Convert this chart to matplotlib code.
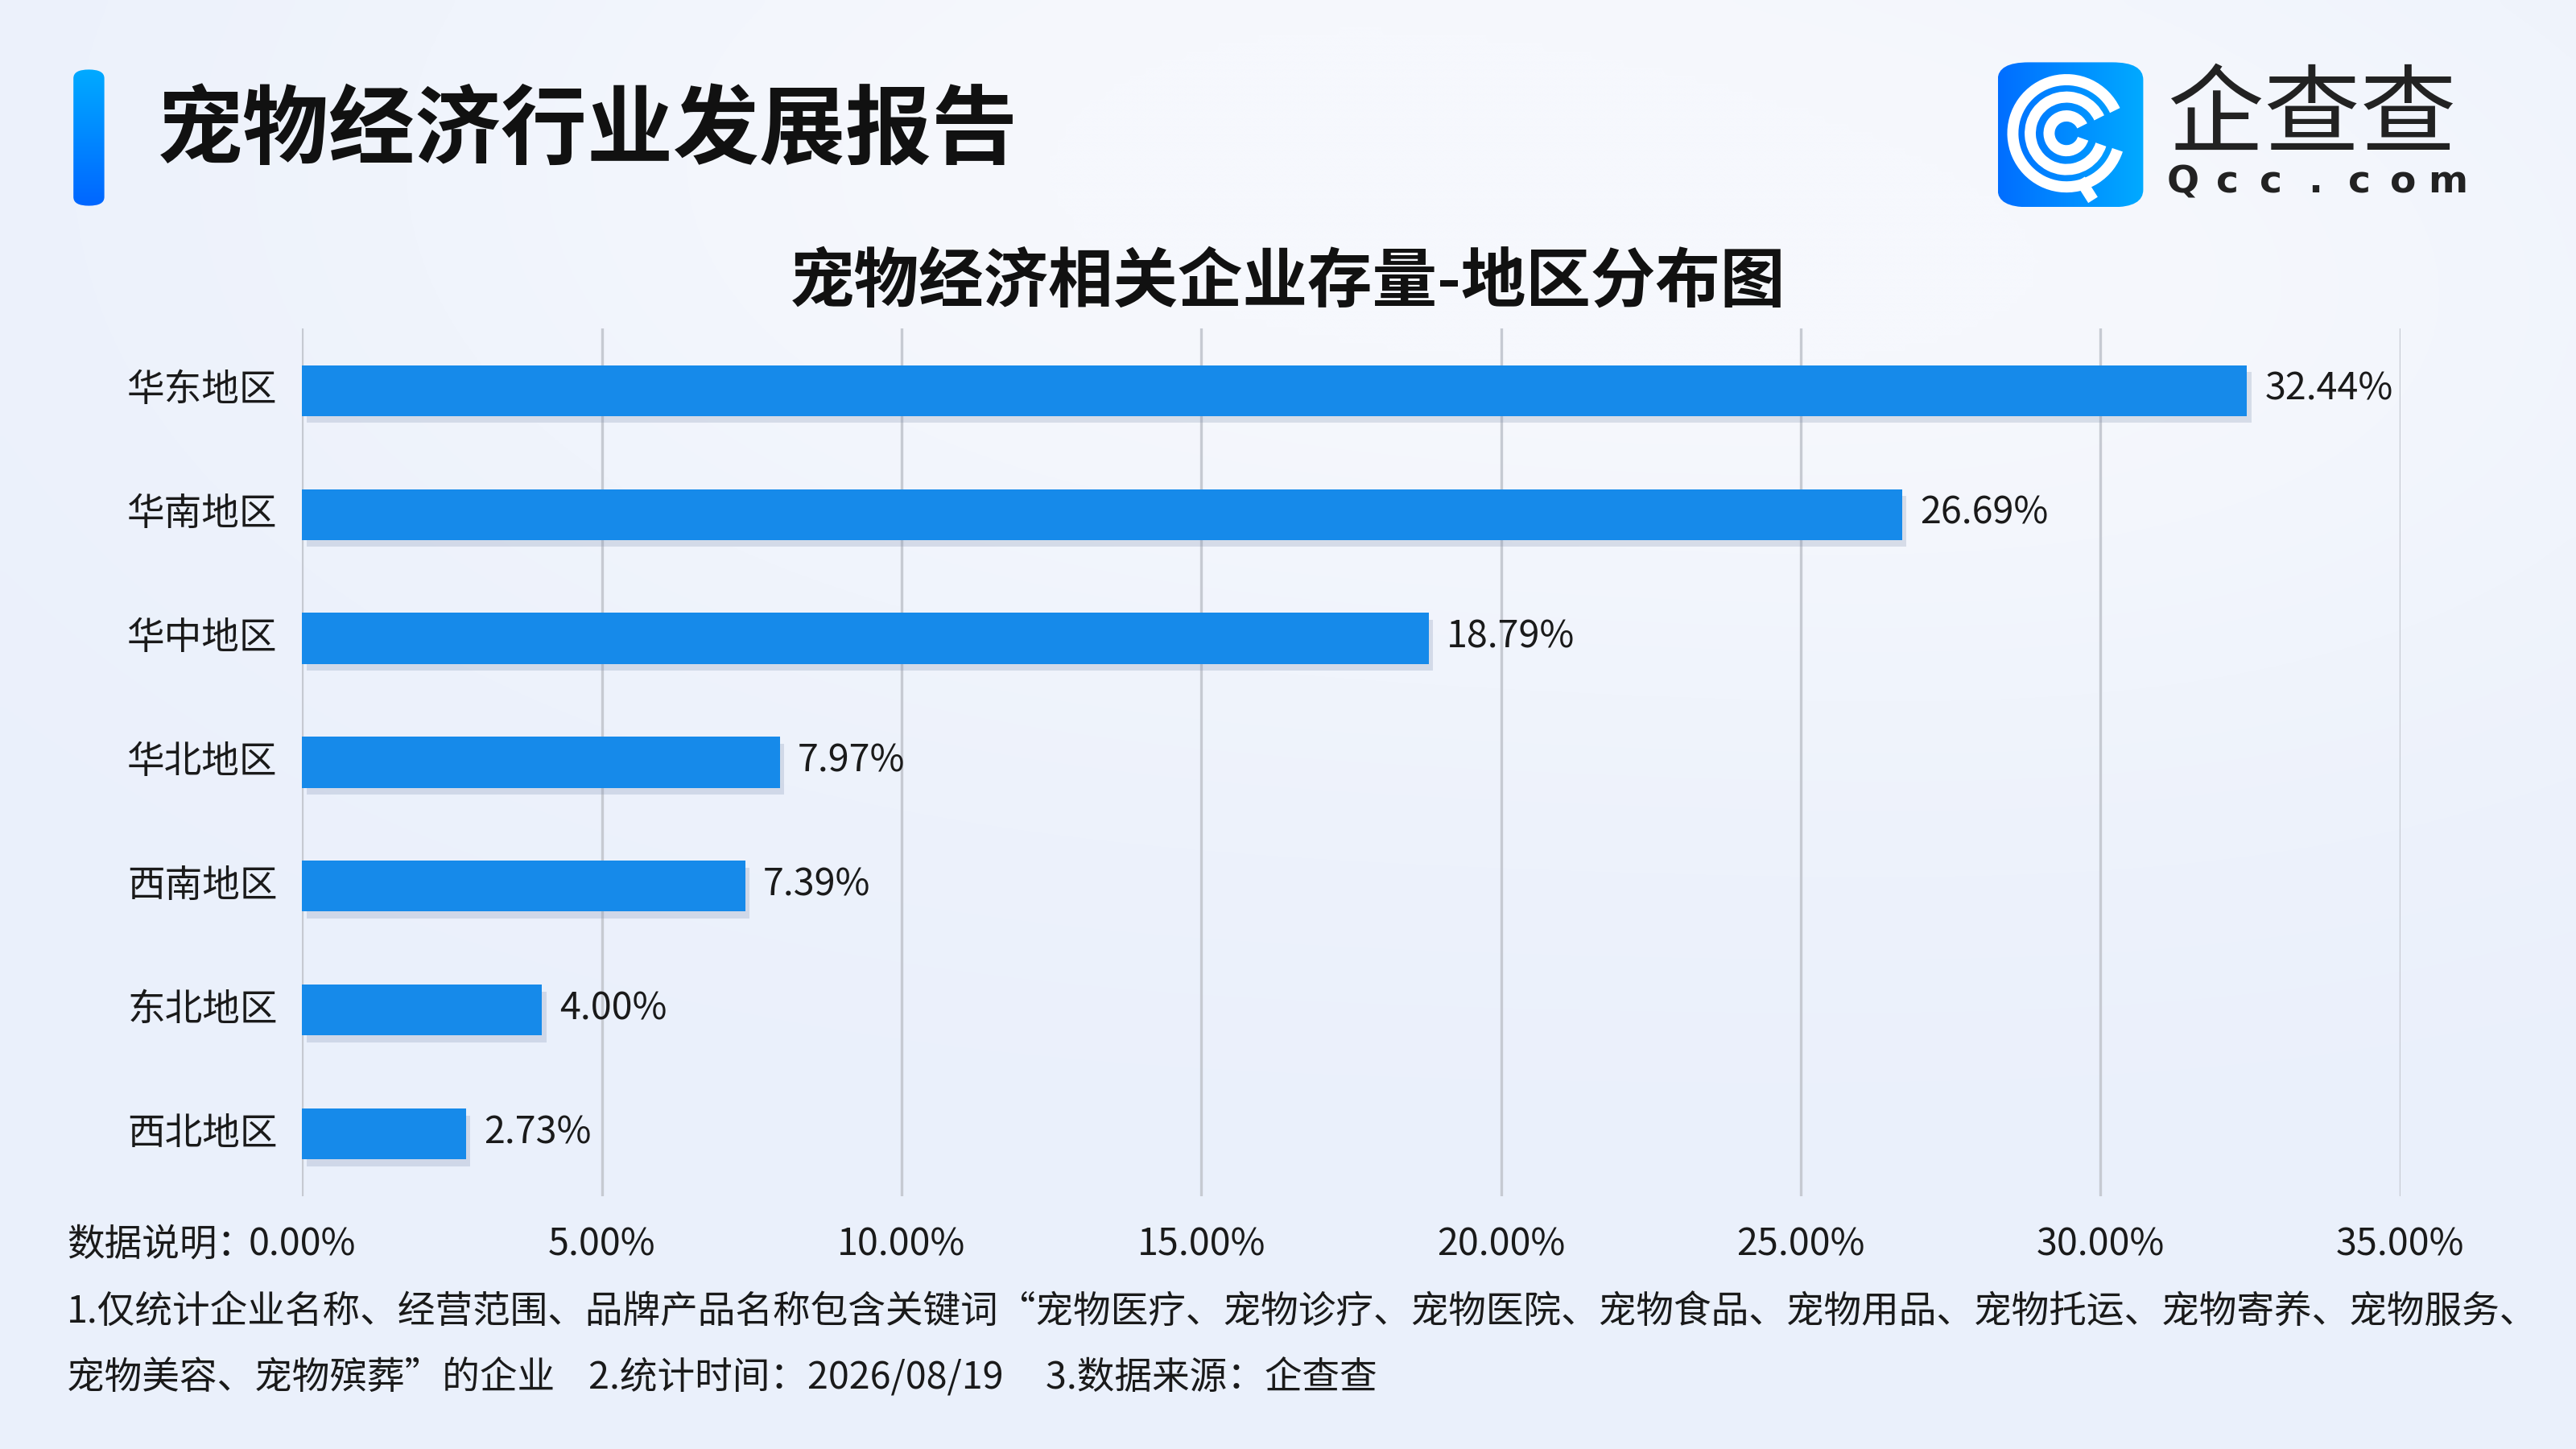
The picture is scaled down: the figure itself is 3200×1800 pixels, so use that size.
import numpy as np
import matplotlib
matplotlib.use("Agg")
import matplotlib.pyplot as plt
from matplotlib.patches import FancyBboxPatch, Arc
import matplotlib.patheffects as pe
import matplotlib.transforms as mtransforms

plt.rcParams['font.family'] = ['Noto Sans CJK SC', 'DejaVu Sans']

# 数据
regions = ['华东地区', '华南地区', '华中地区', '华北地区', '西南地区', '东北地区', '西北地区']
shares = [32.44, 26.69, 18.79, 7.97, 7.39, 4.00, 2.73]
xticks = [0, 5, 10, 15, 20, 25, 30, 35]

title = '宠物经济行业发展报告'
chart_title = '宠物经济相关企业存量-地区分布图'
note1 = '1.仅统计企业名称、经营范围、品牌产品名称包含关键词“宠物医疗、宠物诊疗、宠物医院、宠物食品、宠物用品、宠物托运、宠物寄养、宠物服务、'
note2 = '宠物美容、宠物殡葬”的企业    2.统计时间：2026/08/19     3.数据来源：企查查'

bar_color = '#168aea'
txt_color = '#1a1a1a'

fig = plt.figure(figsize=(16, 9), dpi=200)

# 背景渐变
bg = fig.add_axes([0, 0, 1, 1])
h, w = 180, 320
yy, xx = np.mgrid[0:h, 0:w]
base = np.array([234, 240, 251]) / 255.0
light = np.array([246, 248, 253]) / 255.0
t = np.exp(-(((xx - 150) / 120.0) ** 2 + ((yy - 20) / 70.0) ** 2))
t2 = np.exp(-(((xx - 280) / 90.0) ** 2 + ((yy - 40) / 60.0) ** 2))
t = np.clip(t + 0.6 * t2, 0, 1)
img = base[None, None, :] * (1 - t[..., None]) + light[None, None, :] * t[..., None]
bg.imshow(img, extent=[0, 1, 0, 1], aspect='auto', interpolation='bicubic')
bg.set_xlim(0, 1)
bg.set_ylim(0, 1)
bg.axis('off')

# 左侧蓝色竖条
grad = np.linspace(0, 1, 100)[:, None]
bar_img = np.zeros((100, 1, 3))
top_c = np.array([0, 170, 255]) / 255.0
bot_c = np.array([0, 102, 255]) / 255.0
bar_img[:, 0, :] = top_c * (1 - grad) + bot_c * grad
acc = FancyBboxPatch((0.0285, 0.858), 0.012, 0.094, boxstyle='round,pad=0,rounding_size=0.006',
                     transform=bg.transAxes, facecolor='none', edgecolor='none')
bg.add_patch(acc)
im = bg.imshow(bar_img, extent=[0.0285, 0.0405, 0.858, 0.952], aspect='auto', zorder=3)
im.set_clip_path(acc)

fig.text(0.061, 0.909, title, fontsize=38.5, fontweight='heavy', color='#111111', va='center', ha='left')

# logo
logo = FancyBboxPatch((0.7755, 0.857), 0.0565, 0.1, boxstyle='round,pad=0,rounding_size=0.012',
                      transform=bg.transAxes, facecolor='none', edgecolor='none')
bg.add_patch(logo)
lg = np.zeros((2, 100, 3))
lx = np.linspace(0, 1, 100)
c1 = np.array([0, 110, 255]) / 255.0
c2 = np.array([0, 170, 255]) / 255.0
lg[:, :, :] = (c1[None, :] * (1 - lx[:, None]) + c2[None, :] * lx[:, None])[None, :, :]
im2 = bg.imshow(lg, extent=[0.7755, 0.832, 0.857, 0.957], aspect='auto', zorder=3)
im2.set_clip_path(logo)
cx, cy = 0.8022, 0.908
for r, lw in [(0.037, 5), (0.025, 5), (0.012, 5)]:
    bg.add_patch(Arc((cx, cy), r * 2 * 9 / 16, r * 2, theta1=40, theta2=330,
                     color='white', lw=lw, zorder=4, transform=bg.transAxes))
bg.plot([0.8075, 0.8125], [0.876, 0.862], color='white', lw=5, zorder=4, solid_capstyle='butt')
fig.text(0.8415, 0.919, '企查查', fontsize=43, color='#222222', va='center', ha='left', fontweight='medium')
for i, ch in enumerate('Qcc.com'):
    fig.text(0.8475 + i * 0.0171, 0.874, ch, fontsize=17, color='#222222', va='center', ha='center',
             fontweight='bold', family=['DejaVu Sans'])

# 图表标题
fig.text(0.5, 0.805, chart_title, fontsize=29, fontweight='bold', color='#111111', ha='center', va='center')

# 主图
ax = fig.add_axes([0.1173, 0.1746, 0.8145, 0.5986])
ax.patch.set_alpha(0)
y = np.arange(len(regions))
bars = ax.barh(y, shares, height=0.41, color=bar_color, zorder=3)
for b in bars:
    b.set_path_effects([pe.SimplePatchShadow(offset=(2, -3), shadow_rgbFace='#8090b0', alpha=0.25),
                        pe.Normal()])
for yi, v in zip(y, shares):
    ax.text(v + 0.3, yi - 0.01, f'{v:.2f}%', va='center', ha='left', fontsize=16.8, color=txt_color, zorder=4)

ax.set_ylim(len(regions) - 0.5, -0.5)
ax.set_xlim(0, 35)
ax.set_xticks(xticks)
ax.set_xticklabels([f'{v:.2f}%' for v in xticks], fontsize=16.8, color=txt_color)
ax.set_yticks(y)
ax.set_yticklabels(regions, fontsize=16.8, color=txt_color)
ax.tick_params(axis='both', length=0)
ax.tick_params(axis='x', pad=13)
ax.tick_params(axis='y', pad=11)
shift = mtransforms.ScaledTranslation(0, 2 / 72, fig.dpi_scale_trans)
for lab in ax.get_yticklabels():
    lab.set_transform(lab.get_transform() + shift)
ax.grid(axis='x', color='#c6cad2', lw=1.2, zorder=0)
for s in ax.spines.values():
    s.set_visible(False)

# 注释
fig.text(0.026, 0.141, '数据说明：', fontsize=16.8, color=txt_color, ha='left', va='center')
fig.text(0.026, 0.094, note1, fontsize=16.8, color=txt_color, ha='left', va='center')
fig.text(0.026, 0.049, note2, fontsize=16.8, color=txt_color, ha='left', va='center')

fig.savefig('out.png', dpi=200)
